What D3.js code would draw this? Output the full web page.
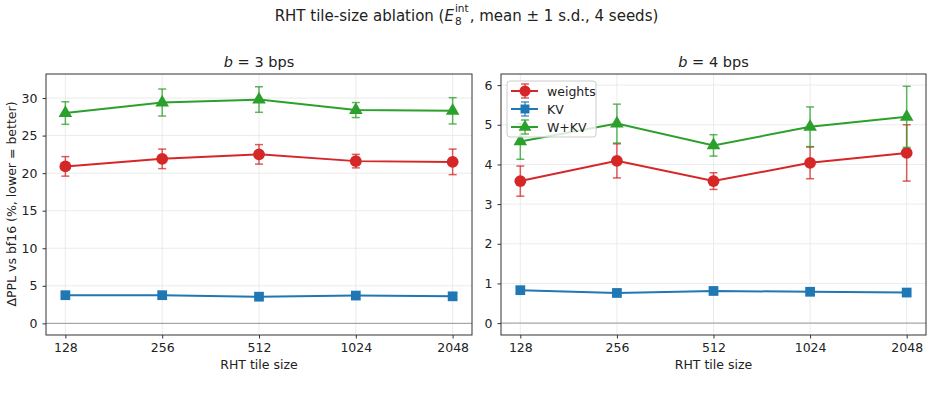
<!DOCTYPE html>
<html>
<head>
<meta charset="utf-8">
<script src="https://cdn.jsdelivr.net/npm/d3@7"></script>
<style>
  body { margin: 0; background: #fff; }
  text { font-family: "DejaVu Sans", sans-serif; fill: #222; }
</style>
</head>
<body>
<div id="chart"></div>
<script>
// data
const tileSizes = ['128', '256', '512', '1024', '2048'];

const weights3 = [20.9, 21.9, 22.5, 21.6, 21.5];
const weights3Sd = [1.3, 1.3, 1.3, 0.9, 1.7];
const kv3 = [3.75, 3.75, 3.55, 3.7, 3.6];
const kv3Sd = [0.1, 0.1, 0.1, 0.1, 0.1];
const wkv3 = [28.0, 29.4, 29.8, 28.4, 28.3];
const wkv3Sd = [1.5, 1.8, 1.7, 1.0, 1.75];

const weights4 = [3.58, 4.09, 3.58, 4.04, 4.29];
const weights4Sd = [0.38, 0.43, 0.21, 0.4, 0.71];
const kv4 = [0.83, 0.76, 0.81, 0.79, 0.77];
const kv4Sd = [0.03, 0.03, 0.03, 0.03, 0.03];
const wkv4 = [4.58, 5.03, 4.48, 4.95, 5.2];
const wkv4Sd = [0.45, 0.49, 0.27, 0.5, 0.77];

const yTicks3 = [0, 5, 10, 15, 20, 25, 30];
const yTicks4 = [0, 1, 2, 3, 4, 5, 6];

const colors = { weights: '#d62728', KV: '#1f77b4', 'W+KV': '#2ca02c' };
const markers = { weights: d3.symbolCircle, KV: d3.symbolSquare, 'W+KV': d3.symbolTriangle };

const W = 933, H = 401;
const svg = d3.select('#chart').append('svg')
  .attr('width', W).attr('height', H);

// suptitle: pieces placed one after another, "int" stacked over the "8"
const supG = svg.append('g');
const t1 = supG.append('text').attr('y', 21).style('font-size', '15px').text('RHT tile-size ablation (');
const tE = supG.append('text').attr('y', 21).style('font-size', '15px').style('font-style', 'italic').text('E');
const tSub = supG.append('text').attr('y', 25).style('font-size', '10.5px').text('8');
const tSup = supG.append('text').attr('y', 12).style('font-size', '10.5px').text('int');
const t2 = supG.append('text').attr('y', 21).style('font-size', '15px').text(', mean ± 1 s.d., 4 seeds)');
const w1 = t1.node().getComputedTextLength();
const wE = tE.node().getComputedTextLength();
const wSup = tSup.node().getComputedTextLength();
const w2 = t2.node().getComputedTextLength();
const total = w1 + wE + 1 + wSup + 1 + w2;
let cx = 466.5 - total / 2;
t1.attr('x', cx); cx += w1;
tE.attr('x', cx); cx += wE + 1;
tSub.attr('x', cx); tSup.attr('x', cx); cx += wSup + 1;
t2.attr('x', cx);

function drawPanel(opt) {
  const { left, right, top, bottom } = opt;
  const g = svg.append('g');

  const x = d3.scalePoint().domain(tileSizes).range([left, right]).padding(0.2);
  const y = d3.scaleLinear().domain(opt.yDomain).range([bottom, top]);

  // grid
  g.append('g').selectAll('line.gx').data(tileSizes).join('line')
    .attr('x1', d => x(d)).attr('x2', d => x(d))
    .attr('y1', top).attr('y2', bottom)
    .attr('stroke', '#e6e6e6').attr('stroke-width', 0.8);
  g.append('g').selectAll('line.gy').data(opt.yTicks).join('line')
    .attr('x1', left).attr('x2', right)
    .attr('y1', d => y(d)).attr('y2', d => y(d))
    .attr('stroke', '#e6e6e6').attr('stroke-width', 0.8);

  // zero line
  g.append('line')
    .attr('x1', left).attr('x2', right)
    .attr('y1', y(0)).attr('y2', y(0))
    .attr('stroke', '#999').attr('stroke-width', 1);

  // axes
  const xAxis = g.append('g').attr('transform', `translate(0,${bottom})`)
    .call(d3.axisBottom(x).tickSize(3.5).tickPadding(5));
  const yAxis = g.append('g').attr('transform', `translate(${left},0)`)
    .call(d3.axisLeft(y).tickValues(opt.yTicks).tickFormat(d3.format('d')).tickSize(3.5).tickPadding(5));
  [xAxis, yAxis].forEach(a => {
    a.select('.domain').remove();
    a.selectAll('text').style('font-size', '12.5px').attr('fill', '#222');
    a.selectAll('line').attr('stroke', '#333');
  });

  g.append('rect')
    .attr('x', left).attr('y', top)
    .attr('width', right - left).attr('height', bottom - top)
    .attr('fill', 'none').attr('stroke', '#333').attr('stroke-width', 1);

  // series
  opt.series.forEach(s => {
    const c = colors[s.name];
    const pts = tileSizes.map((t, i) => ({ t, v: s.values[i], sd: s.sd[i] }));
    const sg = g.append('g');

    sg.selectAll('line.err').data(pts).join('line')
      .attr('x1', d => x(d.t)).attr('x2', d => x(d.t))
      .attr('y1', d => y(d.v - d.sd)).attr('y2', d => y(d.v + d.sd))
      .attr('stroke', c).attr('stroke-width', 1.5).attr('opacity', 0.75);
    sg.selectAll('line.cap').data(pts.flatMap(d => [d.v - d.sd, d.v + d.sd].map(v => ({ t: d.t, v })))).join('line')
      .attr('x1', d => x(d.t) - 4).attr('x2', d => x(d.t) + 4)
      .attr('y1', d => y(d.v)).attr('y2', d => y(d.v))
      .attr('stroke', c).attr('stroke-width', 1.5).attr('opacity', 0.75);

    sg.append('path').datum(pts)
      .attr('fill', 'none').attr('stroke', c).attr('stroke-width', 2)
      .attr('d', d3.line().x(d => x(d.t)).y(d => y(d.v)));

    sg.selectAll('path.m').data(pts).join('path')
      .attr('transform', d => `translate(${x(d.t)},${y(d.v)})`)
      .attr('d', d3.symbol().type(markers[s.name]).size(s.name === 'KV' ? 95 : (s.name === 'W+KV' ? 80 : 110)))
      .attr('fill', c);
  });

  // title
  const t = g.append('text')
    .attr('x', (left + right) / 2).attr('y', top - 7)
    .attr('text-anchor', 'middle').style('font-size', '14.5px');
  t.append('tspan').style('font-style', 'italic').text('b');
  t.append('tspan').text(' = ' + opt.bits + ' bps');

  g.append('text')
    .attr('x', (left + right) / 2).attr('y', bottom + 34)
    .attr('text-anchor', 'middle').style('font-size', '12.5px')
    .text('RHT tile size');

  return { g, x, y };
}

drawPanel({
  left: 46, right: 472, top: 74, bottom: 335,
  yDomain: [-1.55, 33.2], yTicks: yTicks3, bits: 3,
  series: [
    { name: 'weights', values: weights3, sd: weights3Sd },
    { name: 'KV', values: kv3, sd: kv3Sd },
    { name: 'W+KV', values: wkv3, sd: wkv3Sd }
  ]
});

drawPanel({
  left: 501, right: 926, top: 74, bottom: 335,
  yDomain: [-0.3, 6.28], yTicks: yTicks4, bits: 4,
  series: [
    { name: 'weights', values: weights4, sd: weights4Sd },
    { name: 'KV', values: kv4, sd: kv4Sd },
    { name: 'W+KV', values: wkv4, sd: wkv4Sd }
  ]
});

// y label
svg.append('text')
  .attr('transform', 'translate(16,204) rotate(-90)')
  .attr('text-anchor', 'middle').style('font-size', '12.5px')
  .text('ΔPPL vs bf16 (%, lower = better)');

// legend
const leg = svg.append('g').attr('transform', 'translate(507,81)');
leg.append('rect')
  .attr('width', 89).attr('height', 56).attr('rx', 3)
  .attr('fill', 'rgba(255,255,255,0.8)').attr('stroke', '#ccc');
['weights', 'KV', 'W+KV'].forEach((name, i) => {
  const yy = 10 + i * 18;
  const c = colors[name];
  const e = leg.append('g').attr('transform', `translate(0,${yy})`);
  e.append('line').attr('x1', 4).attr('x2', 31).attr('stroke', c).attr('stroke-width', 2);
  e.append('line').attr('x1', 18).attr('x2', 18).attr('y1', -7).attr('y2', 7)
    .attr('stroke', c).attr('stroke-width', 1.5).attr('opacity', 0.75);
  [-7, 7].forEach(dy => e.append('line').attr('x1', 14).attr('x2', 22).attr('y1', dy).attr('y2', dy)
    .attr('stroke', c).attr('stroke-width', 1.5).attr('opacity', 0.75));
  e.append('path').attr('transform', 'translate(18,0)')
    .attr('d', d3.symbol().type(markers[name]).size(name === 'KV' ? 80 : (name === 'W+KV' ? 70 : 95)))
    .attr('fill', c);
  e.append('text').attr('x', 40).attr('y', 4.5).style('font-size', '12.5px').text(name);
});
</script>
</body>
</html>
